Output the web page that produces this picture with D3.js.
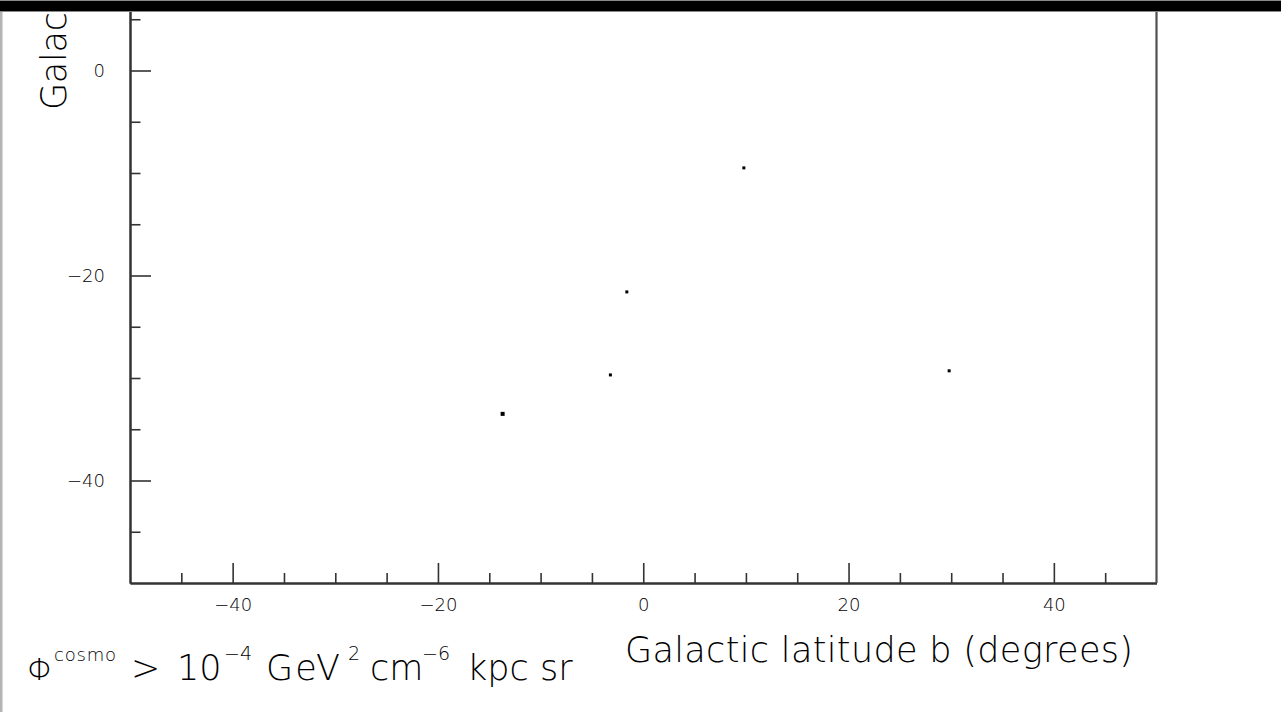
<!DOCTYPE html>
<html>
<head>
<meta charset="utf-8">
<script src="https://cdn.jsdelivr.net/npm/d3@7"></script>
<style>
  html, body { margin: 0; padding: 0; background: #fff; }
  svg { display: block; }
  .lbl { font-family: "DejaVu Sans", "Liberation Sans", sans-serif; font-weight: 200; fill: #000; }
</style>
</head>
<body>
<svg id="chart" width="1281" height="712"></svg>
<script>
// Source positions: galactic latitude b and longitude l, in degrees
const latitude  = [-13.7, -3.2, -1.6, 9.8, 29.8];
const longitude = [-33.5, -29.7, -21.6, -9.5, -29.3];

// Axis ticks (degrees)
const majorTicks = [-40, -20, 0, 20, 40];
const minorTicks = d3.range(-50, 51, 5).filter(v => v % 20 !== 0 && v > -50 && v < 50);

const xTitle = "Galactic latitude b (degrees)";
const yTitle = "Galactic longitude l (degrees)";

const svg = d3.select("#chart");
const W = 1281, H = 712, topBand = 12;

svg.append("rect").attr("width", W).attr("height", H).attr("fill", "#fff");

// frame: pixels per degree is the same on both axes
const x = d3.scaleLinear().domain([-50, 50]).range([130, 1156.5]);
const y = d3.scaleLinear().domain([-50, 50]).range([583, -442]);

const axisColor = "#333";
const tickFont = 18;

// only label the longitude ticks that fall below the top band
const yMajorTicks = majorTicks.filter(v => y(v) > topBand + 10);
const yMinorTicks = minorTicks.filter(v => y(v) > topBand);

// left axis: major ticks with labels, then minor ticks
const yMajor = svg.append("g").attr("transform", `translate(${x(-50)},0)`)
  .call(d3.axisLeft(y).tickValues(yMajorTicks).tickSizeInner(-21).tickSizeOuter(0).tickPadding(25));
const yMinor = svg.append("g").attr("transform", `translate(${x(-50)},0)`)
  .call(d3.axisLeft(y).tickValues(yMinorTicks).tickSizeInner(-10.5).tickSizeOuter(0).tickFormat(""));

// bottom axis
const xMajor = svg.append("g").attr("transform", `translate(0,${y(-50)})`)
  .call(d3.axisBottom(x).tickValues(majorTicks).tickSizeInner(-20).tickSizeOuter(0).tickPadding(15));
const xMinor = svg.append("g").attr("transform", `translate(0,${y(-50)})`)
  .call(d3.axisBottom(x).tickValues(minorTicks).tickSizeInner(-10).tickSizeOuter(0).tickFormat(""));

[yMajor, yMinor, xMajor, xMinor].forEach(g => {
  g.selectAll("path.domain").attr("stroke", axisColor).attr("stroke-width", 2);
  g.selectAll(".tick line").attr("stroke", axisColor).attr("stroke-width", 1.6);
  g.selectAll(".tick text")
    .attr("class", "lbl")
    .attr("font-size", tickFont)
    .attr("fill", "#000");
});

// right edge of the frame
svg.append("line")
  .attr("x1", x(50)).attr("x2", x(50))
  .attr("y1", y(50)).attr("y2", y(-50))
  .attr("stroke", "#505050").attr("stroke-width", 2.2);

// data marks: tiny filled squares
svg.append("g").selectAll("rect")
  .data(latitude.map((b, i) => ({ b, l: longitude[i], i })))
  .join("rect")
  .attr("x", d => x(d.b) - (d.i === 0 ? 2 : 1.5))
  .attr("y", d => y(d.l) - (d.i === 0 ? 2 : 1.5))
  .attr("width", d => d.i === 0 ? 4 : 3)
  .attr("height", d => d.i === 0 ? 4 : 3)
  .attr("fill", "#000");

// axis titles
svg.append("text").attr("class", "lbl")
  .attr("x", 625).attr("y", 662)
  .attr("font-size", 35)
  .attr("textLength", 508).attr("lengthAdjust", "spacing")
  .text(xTitle);

svg.append("text").attr("class", "lbl")
  .attr("transform", "translate(66,110) rotate(-90)")
  .attr("font-size", 35)
  .attr("textLength", 508).attr("lengthAdjust", "spacing")
  .text(yTitle);

// selection-cut annotation, bottom left
const base = 680, big = 35, sup = 18;
const pieces = [
  { t: "\u03A6",   x: 27,  dy: 0,   s: big - 4 },
  { t: "cosmo",    x: 54,  dy: -19, s: sup, w: 62 },
  { t: ">",        x: 131, dy: 0,   s: big },
  { t: "10",       x: 177, dy: 0,   s: big },
  { t: "\u22124",  x: 224, dy: -20, s: sup + 1 },
  { t: "GeV",      x: 266, dy: 0,   s: big, w: 74 },
  { t: "2",        x: 348, dy: -20, s: sup + 1 },
  { t: "cm",       x: 370, dy: 0,   s: big },
  { t: "\u22126",  x: 422, dy: -20, s: sup + 1 },
  { t: "kpc",      x: 467, dy: 0,   s: big },
  { t: "sr",       x: 540, dy: 0,   s: big }
];
const note = svg.append("g");
note.selectAll("text").data(pieces).join("text")
  .attr("class", "lbl")
  .attr("x", d => d.x).attr("y", d => base + d.dy)
  .attr("font-size", d => d.s)
  .attr("textLength", d => d.w || null)
  .attr("lengthAdjust", "spacing")
  .text(d => d.t);

// page border: grey strip on the left, black band on top
svg.append("rect").attr("x", 0).attr("y", topBand).attr("width", 2.5).attr("height", H - topBand).attr("fill", "#b4b4b4");
svg.append("rect").attr("x", 0).attr("y", 0).attr("width", W).attr("height", topBand).attr("fill", "#8a8a8a");
svg.append("rect").attr("x", 0).attr("y", 1).attr("width", W).attr("height", topBand - 2).attr("fill", "#000");
</script>
</body>
</html>
